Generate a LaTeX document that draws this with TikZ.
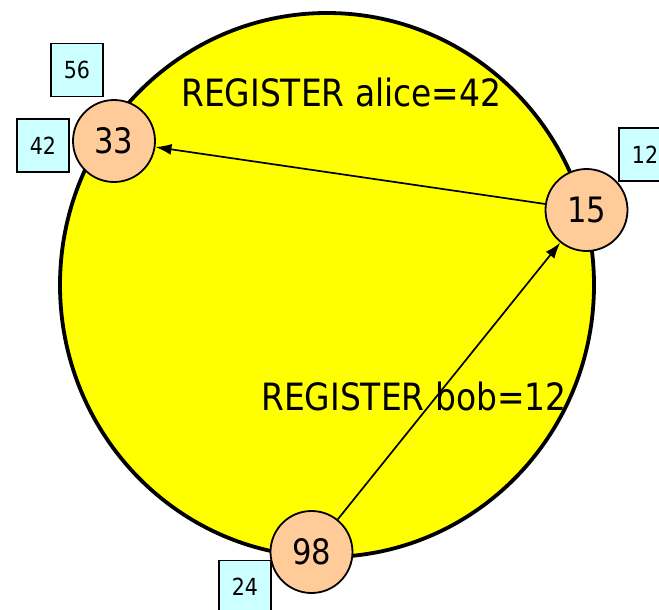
\documentclass[tikz,border=0pt]{standalone}
\usepackage{fontspec}
\setmainfont{DejaVu Sans}[FakeStretch=0.875]
\usetikzlibrary{arrows.meta}
\definecolor{ringyellow}{HTML}{FFFF00}
\definecolor{peernode}{HTML}{FFCC99}
\definecolor{idbox}{HTML}{CCFFFF}
\tikzset{
  peer/.style={circle, draw=black, line width=1.8pt, fill=peernode,
    minimum size=82pt, inner sep=0pt, font=\fontsize{35}{37}\selectfont},
  keybox/.style={rectangle, draw=black, line width=1.6pt, fill=idbox,
    minimum width=52pt, minimum height=53pt, inner sep=0pt,
    font=\fontsize{23.5}{25}\selectfont},
  msg/.style={anchor=base west, inner sep=0pt, font=\fontsize{37.6}{40}\selectfont},
  route/.style={line width=1.7pt, -{Latex[length=16pt,width=11pt]}}
}
\begin{document}
\begin{tikzpicture}[x=1pt, y=-1pt]
  \useasboundingbox (0,0) rectangle (659,610);
  \clip (0,0) rectangle (659,610);
  % the ring
  \draw[line width=3.8pt, fill=ringyellow] (327,285) ellipse [x radius=267, y radius=272];
  % identifier boxes
  \node[keybox] (k56) at (77,70) {56};
  \node[keybox] (k42) at (43,145.5) {42};
  \node[keybox] (k12) at (645,154.5) {12};
  \node[keybox] (k24) at (245,587) {24};
  % messages
  \node[msg] (m1) at (181,106.7) {REGISTER alice=42};
  \node[msg] (m2) at (261,410) {REGISTER bob=12};
  % peers
  \node[peer] (p33) at (114,141) {33};
  \node[peer] (p15) at (586.5,210) {15};
  \node[peer] (p98) at (311.5,552) {98};
  % routing
  \draw[route] (p15) -- (p33);
  \draw[route] (p98) -- (p15);
\end{tikzpicture}
\end{document}
